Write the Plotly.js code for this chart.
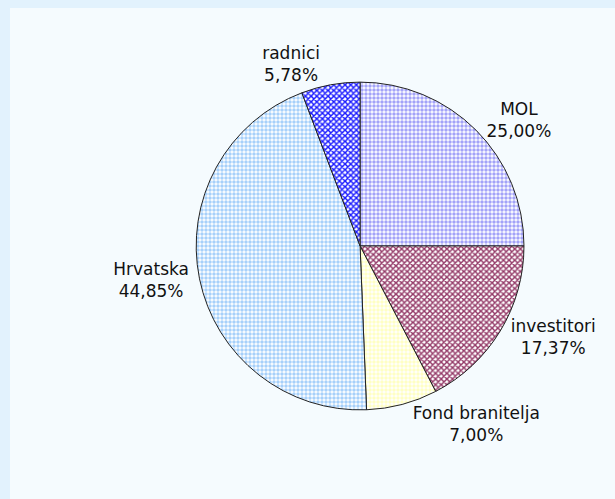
<!DOCTYPE html>
<html>
<head>
<meta charset="utf-8">
<script src="https://cdn.plot.ly/plotly-3.0.1.min.js"></script>
<style>html,body{margin:0;padding:0;background:#f5fbfe;}</style>
</head>
<body>
<div id="chart" style="width:615px;height:499px;"></div>
<script>
const labels = ["MOL", "investitori", "Fond branitelja", "Hrvatska", "radnici"];
const values = [25.00, 17.37, 7.00, 44.85, 5.78];
const colors = ["#a3a3f8", "#943a68", "#ffffc4", "#a6d0fa", "#1a1aff"];
const patternShapes = [".", "x", ".", ".", "x"];

const pctText = values.map(v => v.toFixed(2).replace('.', ',') + '%');

const fontSpec = {family: 'DejaVu Sans, Verdana, sans-serif', size: 17, color: '#111111'};

const trace = {
  type: 'pie',
  labels: labels,
  values: values,
  text: pctText,
  sort: false,
  direction: 'clockwise',
  rotation: 0,
  textinfo: 'label+text',
  texttemplate: '%{label}<br>%{text}',
  textposition: 'outside',
  hoverinfo: 'none',
  showlegend: false,
  domain: {x: [0.319, 0.852], y: [0.178, 0.836]},
  textfont: fontSpec,
  outsidetextfont: fontSpec,
  marker: {
    colors: colors,
    line: {color: '#222222', width: 1},
    pattern: {
      shape: patternShapes,
      fgcolor: colors,
      bgcolor: '#ffffff',
      size: 4,
      solidity: 0.6,
      fillmode: 'replace'
    }
  }
};

const layout = {
  width: 615,
  height: 499,
  margin: {l: 0, r: 0, t: 0, b: 0},
  paper_bgcolor: '#f5fbfe',
  plot_bgcolor: '#f5fbfe',
  showlegend: false,
  shapes: [
    {type: 'rect', xref: 'paper', yref: 'paper', x0: 0, x1: 10/615, y0: 0, y1: 1,
     fillcolor: '#e2f2fd', line: {width: 0}, layer: 'below'},
    {type: 'rect', xref: 'paper', yref: 'paper', x0: 0, x1: 1, y0: 1 - 8/499, y1: 1,
     fillcolor: '#e2f2fd', line: {width: 0}, layer: 'below'}
  ]
};

Plotly.newPlot('chart', [trace], layout, {staticPlot: true, displayModeBar: false});
</script>
</body>
</html>
